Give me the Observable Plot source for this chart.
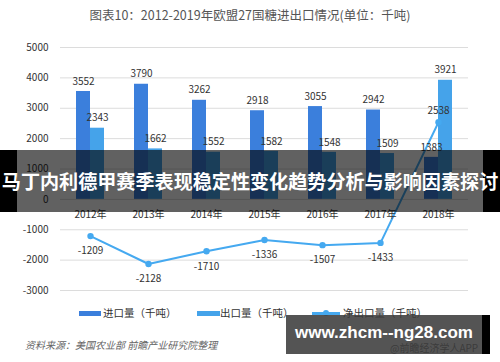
<!DOCTYPE html>
<html><head><meta charset="utf-8">
<script src="https://cdn.jsdelivr.net/npm/d3@7"></script>
<script src="https://cdn.jsdelivr.net/npm/@observablehq/plot@0.6"></script>
<style>
body{margin:0;background:#fff;}
#wrap{position:relative;width:500px;height:362px;overflow:hidden;font-family:"Noto Sans CJK SC","Noto Sans",sans-serif;background:#fff;}
#title{position:absolute;top:6px;left:0;width:500px;text-align:center;font-size:12.5px;color:#555;line-height:18px;}
#chart{position:absolute;top:32px;left:0;}
.leg{position:absolute;top:305px;font-size:10.5px;color:#333;line-height:16px;}
.sw{position:absolute;top:311px;height:5px;}
#source{position:absolute;left:25px;top:337px;font-size:10px;color:#666;font-style:italic;line-height:16px;}
#banner{position:absolute;left:0;top:150px;width:500px;height:62px;}
#banner .edge{position:absolute;top:0;height:62px;width:17px;background:#000;}
#banner .mid{position:absolute;top:0;left:17px;width:466px;height:62px;background:rgba(0,0,0,0.62);}
#banner .txt{position:absolute;left:0;top:0;width:500px;height:62px;line-height:62px;text-align:center;color:#fff;font-weight:bold;font-size:19.1px;white-space:nowrap;font-family:"Noto Sans CJK SC",sans-serif;}
#wm{position:absolute;left:286px;top:315px;width:196px;height:39px;background:rgba(60,60,60,0.88);}
#wmedge{position:absolute;left:482px;top:315px;width:8px;height:39px;background:#000;}
#wmsub{position:absolute;left:390px;top:341px;font-size:10px;color:#333;line-height:14px;}
#wmtxt{position:absolute;left:286px;top:315px;width:196px;height:36px;line-height:36px;text-align:center;color:#fff;font-weight:bold;font-size:17px;font-family:"Liberation Sans",Arial,sans-serif;}
</style>
</head><body>
<div id="wrap">
  <div id="title">图表10：2012-2019年欧盟27国糖进出口情况(单位：千吨)</div>
  <div id="chart"></div>
  <div class="sw" style="left:79px;width:22px;background:#3b7fdc;"></div>
  <div class="leg" style="left:103px;">进口量（千吨）</div>
  <div class="sw" style="left:197px;width:23px;background:#45a3ea;"></div>
  <div class="leg" style="left:220px;">出口量（千吨）</div>
  <div style="position:absolute;left:312px;top:312px;width:28px;height:2.5px;background:#45a9f0;"></div>
  <div style="position:absolute;left:323px;top:310px;width:6px;height:6px;border-radius:3px;background:#45a9f0;"></div>
  <div class="leg" style="left:343px;">净出口量（千吨）</div>
  <div id="source">资料来源：美国农业部 前瞻产业研究院整理</div>
  <div id="wmsub">@前瞻经济学人APP</div>
  <div id="wm"></div>
  <div id="wmedge"></div>
  <div id="wmtxt">www.zhcm--ng28.com</div>
  <div id="banner">
    <div class="edge" style="left:0;"></div>
    <div class="mid"></div>
    <div class="edge" style="left:483px;"></div>
    <div class="txt">马丁内利德甲赛季表现稳定性变化趋势分析与影响因素探讨</div>
  </div>
</div>
<script>
const years = ["2012年","2013年","2014年","2015年","2016年","2017年","2018年"];
const importVals = [3552, 3790, 3262, 2918, 3055, 2942, 1383];
const exportVals = [2343, 1662, 1552, 1582, 1548, 1509, 3921];
const netVals = [-1209, -2128, -1710, -1336, -1507, -1433, 2538];
const yTicks = [-3000, -2000, -1000, 0, 1000, 2000, 3000, 4000, 5000];

const rows = years.map((year, i) => ({year, imp: importVals[i], exp: exportVals[i], net: netVals[i]}));

const cImp = "#3b7fdc", cExp = "#45a3ea", cNet = "#45a9f0";

const chart = Plot.plot({
  width: 500,
  height: 270,
  marginTop: 15,
  marginBottom: 12,
  marginLeft: 60,
  marginRight: 32,
  style: {fontFamily: '"Noto Sans CJK SC","Noto Sans",sans-serif', fontSize: "10px", color: "#333", background: "transparent"},
  x: {type: "band", domain: years, paddingInner: 0.52, paddingOuter: 0.26, axis: null},
  y: {domain: [-3000, 5000], ticks: 8, tickSize: 0, tickPadding: 12, tickFormat: d => String(d), label: null, nice: false},
  marks: [
    Plot.ruleY(yTicks, {stroke: "#dcdcdc", strokeWidth: 1}),
    Plot.barY(rows, {x: "year", y: "imp", fill: cImp, insetRight: 14}),
    Plot.barY(rows, {x: "year", y: "exp", fill: cExp, insetLeft: 14}),
    Plot.line(rows, {x: "year", y: "net", stroke: cNet, strokeWidth: 2}),
    Plot.dot(rows, {x: "year", y: "net", r: 3.2, fill: cNet}),
    Plot.text(rows, {x: "year", y: "imp", text: d => String(d.imp), dx: -7, dy: -10}),
    Plot.text(rows, {x: "year", y: "exp", text: d => String(d.exp), dx: 7, dy: -10}),
    Plot.text(rows.filter(d => d.net < 0), {x: "year", y: "net", text: d => String(d.net), dy: 15}),
    Plot.text(rows.filter(d => d.net >= 0), {x: "year", y: "net", text: d => String(d.net), dy: -11}),
    Plot.text(rows, {x: "year", y: () => 0, text: "year", dy: 15})
  ]
});
document.getElementById("chart").appendChild(chart);
</script>
</body></html>
